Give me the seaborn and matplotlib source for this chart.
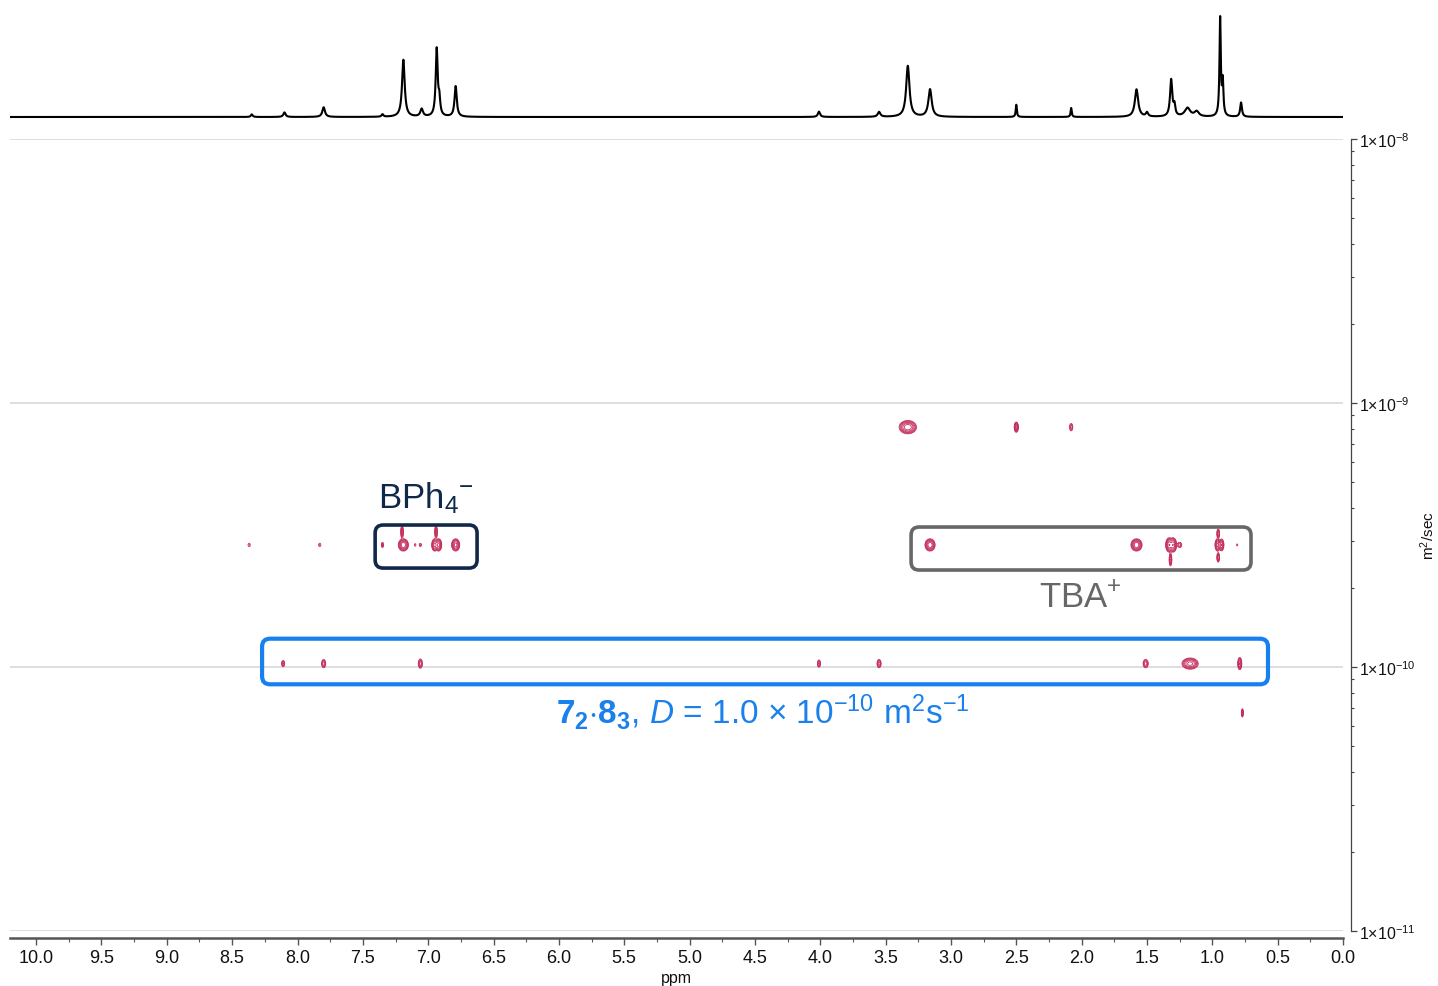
import numpy as np
import pandas as pd
import seaborn as sns
import matplotlib
matplotlib.use("Agg")
import matplotlib.pyplot as plt
from matplotlib.patches import FancyBboxPatch
from matplotlib.transforms import IdentityTransform
from matplotlib.ticker import MultipleLocator, LogLocator, FuncFormatter, NullFormatter

# ---------------------------------------------------------------------------
# 1H projection: peak list (chemical shift / relative height / half-width)
# ---------------------------------------------------------------------------
spec_ppm = [8.35, 8.10, 7.80, 7.35, 7.19, 7.05, 6.935, 6.915, 6.79,
            4.01, 3.55, 3.33, 3.16, 2.50, 2.08, 1.58, 1.50, 1.315, 1.29,
            1.19, 1.12, 0.94, 0.92, 0.78]
spec_height = [0.026, 0.045, 0.095, 0.025, 0.56, 0.075, 0.66, 0.15, 0.30,
               0.052, 0.048, 0.50, 0.27, 0.12, 0.088, 0.27, 0.04, 0.36, 0.10,
               0.085, 0.05, 0.96, 0.33, 0.14]
spec_hwhm = [0.008, 0.010, 0.012, 0.008, 0.012, 0.012, 0.009, 0.008, 0.010,
             0.010, 0.012, 0.015, 0.015, 0.005, 0.005, 0.015, 0.010, 0.010, 0.008,
             0.025, 0.020, 0.006, 0.006, 0.008]

# ---------------------------------------------------------------------------
# DOSY cross peaks: shift (ppm), diffusion coefficient (m^2/s), amplitude,
# width along ppm and along log10(D)
# ---------------------------------------------------------------------------
cp_ppm = [3.33, 2.50, 2.08,
          8.37, 7.83, 7.35, 7.19, 7.20, 7.10, 7.06, 6.95, 6.92, 6.94, 6.79,
          3.16, 1.58, 1.33, 1.30, 1.32, 1.25, 0.96, 0.93, 0.955, 0.955, 0.81,
          8.11, 7.80, 7.06, 4.01, 3.55, 1.51, 1.17, 0.79,
          0.77]
cp_D = [8.1e-10, 8.1e-10, 8.1e-10,
        2.9e-10, 2.9e-10, 2.9e-10, 2.9e-10, 3.25e-10, 2.9e-10, 2.9e-10, 2.9e-10, 2.9e-10, 3.25e-10, 2.9e-10,
        2.9e-10, 2.9e-10, 2.9e-10, 2.9e-10, 2.55e-10, 2.9e-10, 2.9e-10, 2.9e-10, 3.2e-10, 2.6e-10, 2.9e-10,
        1.03e-10, 1.03e-10, 1.03e-10, 1.03e-10, 1.03e-10, 1.03e-10, 1.03e-10, 1.03e-10,
        6.7e-11]
cp_amp = [1.5, 1.2, 0.3,
          0.15, 0.15, 0.3, 1.5, 0.6, 0.15, 0.2, 1.2, 1.2, 0.6, 1.2,
          1.5, 1.5, 1.5, 1.5, 0.6, 0.3, 1.2, 1.0, 0.6, 0.6, 0.12,
          0.4, 0.5, 0.5, 0.4, 0.5, 0.5, 1.2, 1.0,
          0.6]
cp_sx = [0.028, 0.007, 0.008,
         0.0085, 0.0085, 0.0052, 0.0164, 0.0053, 0.006, 0.0065, 0.0103, 0.0103, 0.0053, 0.0137,
         0.0164, 0.018, 0.0115, 0.0115, 0.0053, 0.0103, 0.0086, 0.0086, 0.0053, 0.0053, 0.006,
         0.0069, 0.0085, 0.0085, 0.0069, 0.0085, 0.0107, 0.0274, 0.0071,
         0.004]
cp_sy = [0.0106, 0.0085, 0.009,
         0.0063, 0.0063, 0.0064, 0.0098, 0.012, 0.0048, 0.0048, 0.0102, 0.0102, 0.012, 0.0102,
         0.0098, 0.0098, 0.0114, 0.0114, 0.012, 0.0064, 0.0102, 0.0102, 0.009, 0.009, 0.005,
         0.0068, 0.0085, 0.0095, 0.008, 0.0085, 0.0085, 0.0093, 0.0106,
         0.008]

# Species groups: ppm span and D span of each outlined band
group_names = ["BPh4", "TBA", "complex"]
group_ppm = [(7.406, 6.626), (3.305, 0.704), (8.271, 0.574)]
group_D = [(3.45e-10, 2.37e-10), (3.39e-10, 2.33e-10), (1.28e-10, 8.6e-11)]
group_colors = ["#10294a", "#676767", "#1580ee"]

x_ticks_step = 0.5
D_limits = (1e-11, 1e-8)
ppm_limits = (10.2, 0.0)

# ---------------------------------------------------------------------------
sns.set_theme(style="white")
plt.rcParams["font.family"] = ["Liberation Sans", "DejaVu Sans"]
plt.rcParams["mathtext.fontset"] = "custom"
plt.rcParams["mathtext.rm"] = "Liberation Sans"
plt.rcParams["mathtext.it"] = "Liberation Sans:italic"
plt.rcParams["mathtext.bf"] = "Liberation Sans:bold"
plt.rcParams["mathtext.sf"] = "Liberation Sans"

W, H = 1438, 987
fig = plt.figure(figsize=(W / 100, H / 100), dpi=100)
fig.patch.set_facecolor("white")

left, right = 10 / W, 1343 / W
ax = fig.add_axes([left, (H - 932) / H, right - left, (932 - 140) / H])
ax_top = fig.add_axes([left, (H - 126) / H, right - left, 120 / H])

# --- 1D projection --------------------------------------------------------
x1 = np.linspace(ppm_limits[0], ppm_limits[1], 10201)
inten = np.zeros_like(x1)
for p, h, w in zip(spec_ppm, spec_height, spec_hwhm):
    inten += h * w ** 2 / ((x1 - p) ** 2 + w ** 2)
proj = pd.DataFrame({"ppm": x1, "intensity": inten})
sns.lineplot(data=proj, x="ppm", y="intensity", ax=ax_top, color="black",
             lw=1.5, estimator=None, sort=False)
ax_top.set_xlim(*ppm_limits)
ax_top.set_ylim(-0.0784, 1.098)
ax_top.set_xlabel("")
ax_top.set_ylabel("")
ax_top.axis("off")

# --- DOSY contour map -----------------------------------------------------
gx = np.arange(ppm_limits[0], ppm_limits[1] - 0.001, -0.002)
gy = np.arange(-10.35, -8.9, 0.0015)
Z = np.zeros((gy.size, gx.size))
for p, d, a, sx, sy in zip(cp_ppm, cp_D, cp_amp, cp_sx, cp_sy):
    ly = np.log10(d)
    fy = np.exp(-0.5 * ((gy - ly) / sy) ** 2)
    fx = np.exp(-0.5 * ((gx - p) / sx) ** 2)
    Z += a * np.outer(fy, fx)
levels = 0.09 * 1.6 ** np.arange(9)
ax.contour(gx, 10 ** gy, Z, levels=levels, colors="#c42e5c", linewidths=0.6)

ax.set_yscale("log")
ax.set_ylim(*D_limits)
ax.set_xlim(*ppm_limits)

ax.grid(True, axis="y", which="major", color="#d4d4d4", linewidth=1.1)
ax.grid(False, axis="x")
ax.grid(False, axis="y", which="minor")

for s in ("top", "left"):
    ax.spines[s].set_visible(False)
ax.spines["right"].set_position(("outward", 5.8))
ax.spines["bottom"].set_position(("outward", 5))
ax.spines["bottom"].set_color("#555555")
ax.spines["bottom"].set_linewidth(1.8)
ax.spines["right"].set_color("#444444")
ax.spines["right"].set_linewidth(0.9)

ax.xaxis.set_major_locator(MultipleLocator(x_ticks_step))
ax.xaxis.set_minor_locator(MultipleLocator(x_ticks_step / 2))
ax.xaxis.set_major_formatter(FuncFormatter(lambda v, p: f"{v:.1f}"))
ax.tick_params(axis="x", which="major", bottom=True, length=5, width=1.0,
               color="#555555", direction="out", labelsize=13, pad=3,
               labelcolor="#111111")
ax.tick_params(axis="x", which="minor", bottom=True, length=3, width=0.8,
               color="#555555", direction="out")
ax.set_xlabel("ppm", fontsize=11.5, labelpad=3, color="#111111")
ax.xaxis.offsetText.set_visible(False)
ax.yaxis.offsetText.set_visible(False)

ax.yaxis.tick_right()
ax.yaxis.set_major_locator(LogLocator(base=10, numticks=10))
ax.yaxis.set_minor_locator(LogLocator(base=10, subs=np.arange(2, 10), numticks=20))
ax.yaxis.set_minor_formatter(NullFormatter())
ax.yaxis.set_major_formatter(FuncFormatter(lambda v, p: r"1×10$^{%d}$" % round(np.log10(v))))
ax.tick_params(axis="y", which="major", right=True, left=False, length=4.5, width=0.9,
               color="#444444", direction="out", labelsize=11.5, pad=1.5,
               labelcolor="#111111")
ax.tick_params(axis="y", which="minor", right=True, left=False, length=2.5, width=0.8,
               color="#444444", direction="out")
ax.set_ylabel("")

# Unit label of the diffusion axis, placed beside the tick labels
ax_bbox = ax.get_position()
fig.text(1428 / W, (ax_bbox.y0 + ax_bbox.y1) / 2, r"m$^2$/sec", fontsize=11,
         rotation=90, ha="center", va="center", color="#111111")

# --- outlined bands and their labels ----------------------------------------
fig.canvas.draw()
trans = ax.transData
for (p0, p1), (d0, d1), col in zip(group_ppm, group_D, group_colors):
    (x0, y0) = trans.transform((p0, d0))
    (x1b, y1b) = trans.transform((p1, d1))
    bx, by = min(x0, x1b), min(y0, y1b)
    bw, bh = abs(x1b - x0), abs(y1b - y0)
    lw = 3.0 if col == "#1580ee" else 2.6
    box = FancyBboxPatch((bx, by), bw, bh, boxstyle="round,pad=0,rounding_size=8",
                         transform=IdentityTransform(), fill=False, ec=col, lw=lw,
                         zorder=5)
    fig.add_artist(box)

ax.text(7.02, 10 ** -9.356, r"$\mathsf{BPh_4{}^{-}}$", color=group_colors[0],
        fontsize=25, ha="center", va="center")
ax.text(2.01, 10 ** -9.735, r"$\mathsf{TBA^{+}}$", color=group_colors[1],
        fontsize=25, ha="center", va="center")
ax.text(4.44, 10 ** -10.167,
        r"$\mathbf{7_2{\cdot}8_3}$, $D$ = 1.0 × 10$^{-10}$ m$^{2}$s$^{-1}$",
        color="#1a80ec", fontsize=24, ha="center", va="center")

fig.savefig("out.png", dpi=100, facecolor="white")
